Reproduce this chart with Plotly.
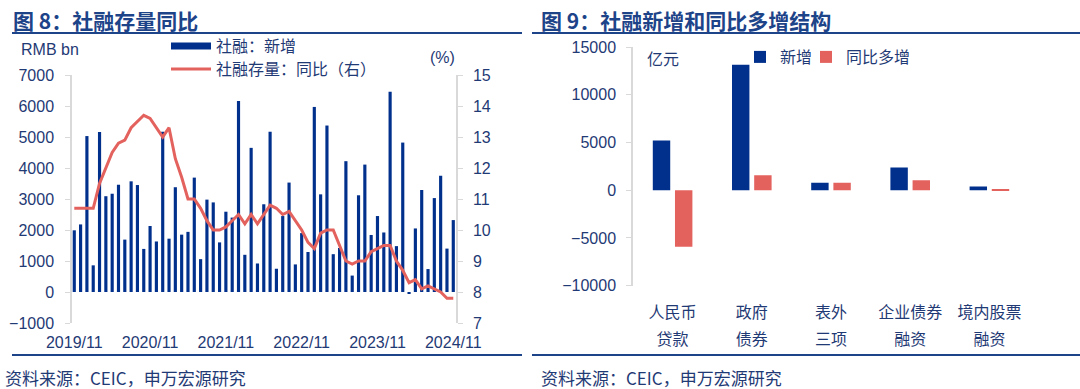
import plotly.graph_objects as go

# ---------------- data ----------------
months = []
for yy in range(2019, 2025):
    for mm in range(1, 13):
        if (yy == 2019 and mm < 11) or (yy == 2024 and mm > 11):
            continue
        months.append(f"{yy}/{mm:02d}")

tsf_new = [1990, 2180, 5030, 860, 5160, 3090, 3170, 3460, 1690, 3570, 3450, 1390,
           2130, 1630, 5170, 1720, 3380, 1850, 1940, 3690, 1060, 2980, 2890, 1600,
           2590, 2400, 6160, 1200, 4650, 920, 2830, 5170, 750, 2450, 3530, 890,
           1900, 1290, 5970, 3150, 5370, 1220, 1420, 4220, 530, 3120, 4110, 1840,
           2450, 1920, 6460, 1480, 4820, -50, 2050, 3290, 740, 3030, 3750, 1400,
           2320]
tsf_yoy = [10.7, 10.7, 10.7, 10.7, 11.5, 12.0, 12.5, 12.8, 12.9, 13.3, 13.5, 13.7,
           13.6, 13.3, 13.0, 13.3, 12.3, 11.7, 11.0, 11.0, 10.7, 10.3, 10.0, 10.0,
           10.1, 10.3, 10.5, 10.2, 10.5, 10.2, 10.5, 10.8, 10.7, 10.5, 10.6, 10.3,
           10.0, 9.6, 9.4, 9.9, 10.0, 10.0, 9.5, 9.0, 8.9, 9.0, 9.0, 9.3,
           9.4, 9.5, 9.5, 9.0, 8.7, 8.3, 8.4, 8.1, 8.2, 8.1, 8.0, 7.8,
           7.8]
left_tick_months = ["2019/11", "2020/11", "2021/11", "2022/11", "2023/11", "2024/11"]

cat_line1 = ["人民币", "政府", "表外", "企业债券", "境内股票"]
cat_line2 = ["贷款", "债券", "三项", "融资", "融资"]
categories = [a + b for a, b in zip(cat_line1, cat_line2)]
new_add = [5200, 13150, 770, 2390, 390]
yoy_more = [-5930, 1580, 770, 1050, 50]

# ---------------- style ----------------
NAVY = "#00308C"
RED = "#E3625E"
TXT = "#1F3A75"
TITLE = "#1D4389"
GRID = "#D9D9D9"
FONT = "Liberation Sans, Noto Sans CJK SC, sans-serif"
CJK = "Noto Sans CJK SC, Liberation Sans, sans-serif"
W, H = 1080, 389

def px_x(v):
    return v / W

def px_y(v):
    return 1 - v / H

L_DOM_X = [px_x(72), px_x(456)]
L_DOM_Y = [px_y(323), px_y(75)]
R_DOM_X = [px_x(633), px_x(1029)]
R_DOM_Y = [px_y(285.7), px_y(47)]
L_RANGE = [-0.36, 60.43]
L_ZERO = L_DOM_Y[0] + (L_DOM_Y[1] - L_DOM_Y[0]) * (0 - -1000) / 8000
R_ZERO = R_DOM_Y[0] + (R_DOM_Y[1] - R_DOM_Y[0]) * (0 - -10000) / 25000

fig = go.Figure()

# left chart
fig.add_trace(go.Bar(x=months, y=tsf_new, width=0.5, marker=dict(color=NAVY, line=dict(width=0)),
                     name="社融：新增", xaxis="x", yaxis="y", showlegend=False, legendgroup="a"))
fig.add_trace(go.Scatter(x=months, y=tsf_yoy, mode="lines", line=dict(color=RED, width=3),
                         name="社融存量：同比（右）", xaxis="x", yaxis="y2", showlegend=False,
                         legendgroup="b"))
# legend entries (left)
fig.add_trace(go.Scatter(x=[None], y=[None], mode="lines", line=dict(color=NAVY, width=7),
                         name="社融：新增", xaxis="x", yaxis="y", legend="legend", legendgroup="a"))
fig.add_trace(go.Scatter(x=[None], y=[None], mode="lines", line=dict(color=RED, width=3),
                         name="社融存量：同比（右）", xaxis="x", yaxis="y2", legend="legend2",
                         legendgroup="b"))

# right chart
fig.add_trace(go.Bar(x=categories, y=new_add, width=0.22, offset=-0.25,
                     marker=dict(color=NAVY, line=dict(width=0)), name="新增",
                     xaxis="x2", yaxis="y3", legend="legend3"))
fig.add_trace(go.Bar(x=categories, y=yoy_more, width=0.22, offset=0.03,
                     marker=dict(color=RED, line=dict(width=0)), name="同比多增",
                     xaxis="x2", yaxis="y3", legend="legend4"))

axis_font = dict(family=FONT, size=16, color=TXT)

ticktext_r = [f"<span style='font-size:16px'>{a}</span><br><span style='font-size:16px'>{b}</span>"
              for a, b in zip(cat_line1, cat_line2)]

common = dict(automargin=False, showgrid=False, zeroline=False)

def leg(x, y_top, iw=30):
    return dict(x=px_x(x), y=px_y(y_top), xanchor="left", yanchor="top", orientation="v",
                bgcolor="rgba(0,0,0,0)", font=dict(family=CJK, size=16, color=TXT),
                itemwidth=iw, tracegroupgap=0)

fig.update_layout(
    template="none",
    width=W, height=H,
    margin=dict(l=0, r=0, t=0, b=0, autoexpand=False),
    paper_bgcolor="white", plot_bgcolor="rgba(0,0,0,0)",
    font=dict(family=CJK, size=16, color=TXT),
    barmode="overlay",
    xaxis=dict(domain=L_DOM_X, anchor="y", type="category", range=L_RANGE,
               tickmode="array", tickvals=left_tick_months, ticktext=left_tick_months,
               showline=False, ticks="", tickfont=axis_font, ticklabelstandoff=8, **common),
    xaxis3=dict(overlaying="x", anchor="free", position=L_ZERO, type="linear", range=L_RANGE,
                tickmode="array", tickvals=[11.5, 23.5, 35.5, 47.5],
                showline=True, linecolor=GRID, linewidth=1.5, ticks="outside", ticklen=5,
                tickcolor=GRID, showticklabels=False, **common),
    yaxis=dict(domain=L_DOM_Y, anchor="x", range=[-1000, 7000], dtick=1000, tick0=0,
               tickformat="d",
               showline=True, linecolor=GRID, linewidth=1.5, ticks="outside", ticklen=5,
               tickcolor=GRID, tickfont=axis_font, ticklabelstandoff=8, **common),
    yaxis2=dict(overlaying="y", side="right", anchor="x", range=[7, 15], dtick=1, tick0=7,
                showline=True, linecolor=GRID, linewidth=1.5, ticks="outside", ticklen=5,
                tickcolor=GRID, tickfont=axis_font, ticklabelstandoff=7, **common),
    xaxis2=dict(domain=R_DOM_X, anchor="y3", type="category", range=[-0.5, 4.5],
                tickmode="array", tickvals=categories, ticktext=ticktext_r,
                showline=False, ticks="",
                tickfont=dict(family=CJK, size=21, color=TXT), ticklabelstandoff=10, **common),
    xaxis4=dict(overlaying="x2", anchor="free", position=R_ZERO, type="linear", range=[-0.5, 4.5],
                tickmode="array", tickvals=[0.5, 1.5, 2.5, 3.5, 4.5],
                showline=True, linecolor=GRID, linewidth=1.5, ticks="outside", ticklen=5,
                tickcolor=GRID, showticklabels=False, **common),
    yaxis3=dict(domain=R_DOM_Y, anchor="x2", range=[-10000, 15000], dtick=5000, tick0=0,
                tickformat="d",
                showline=True, linecolor=GRID, linewidth=1.5, ticks="outside", ticklen=5,
                tickcolor=GRID, tickfont=axis_font, ticklabelstandoff=7, **common),
    legend=leg(166, 29, 40),
    legend2=leg(166, 52, 40),
    legend3=leg(740, 40),
    legend4=leg(806, 40),
    showlegend=True,
)

ann = []
def add_text(text, x, y, size=16, color=TXT, bold=False, xanchor="left", family=CJK):
    ann.append(dict(text=(f"<b>{text}</b>" if bold else text), x=px_x(x), y=px_y(y),
                    xref="paper", yref="paper", xanchor=xanchor, yanchor="middle",
                    showarrow=False, font=dict(family=family, size=size, color=color)))

add_text("图 8：社融存量同比", 11, 20, size=21, color=TITLE, bold=True)
add_text("图 9：社融新增和同比多增结构", 539, 20, size=21, color=TITLE, bold=True)
add_text("RMB bn", 19, 50, family=FONT)
add_text("(%)", 428, 57, family=FONT)
add_text("亿元", 645, 58)
add_text("资料来源：CEIC，申万宏源研究", 3, 377, size=17)
add_text("资料来源：CEIC，申万宏源研究", 539, 377, size=17)
fig.update_layout(annotations=ann)

shapes = []
for x0, x1 in [(12, 522), (532, 1080)]:
    shapes.append(dict(type="line", xref="paper", yref="paper", x0=px_x(x0), x1=px_x(x1),
                       y0=px_y(33), y1=px_y(33), line=dict(color=TITLE, width=2)))
    shapes.append(dict(type="line", xref="paper", yref="paper", x0=px_x(x0), x1=px_x(x1),
                       y0=px_y(355), y1=px_y(355), line=dict(color=TITLE, width=2)))
fig.update_layout(shapes=shapes)

fig.write_html("out.html", config={"displayModeBar": False},
               post_script="document.body.style.margin='0';document.body.style.overflow='hidden';")
